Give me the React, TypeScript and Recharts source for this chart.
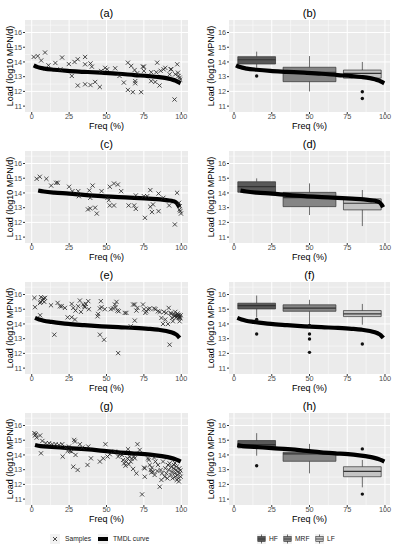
import React from "react";
import {
  CartesianGrid,
  ComposedChart,
  Line,
  ReferenceArea,
  ReferenceLine,
  Scatter,
  XAxis,
  YAxis,
} from "recharts";

type Pt = [number, number];

const freqTicks = [0, 25, 50, 75, 100];
const freqMinor = [12.5, 37.5, 62.5, 87.5];
const loadTicks = [11, 12, 13, 14, 15, 16];
const loadMinor = [11.5, 12.5, 13.5, 14.5, 15.5, 16.5];

// flow classes: name, frequency range of the box, centre
const flowClasses = ["HF", "MRF", "LF"];
const classRange: Pt[] = [
  [2.5, 27.5],
  [32.5, 67.5],
  [72.5, 97.5],
];
const classMid = [15, 50, 85];
const classFill = ["#595959", "#858585", "#C4C4C4"];

// TMDL curves (freq %, log10 load)
const tmdlAB: Pt[] = [
  [1.3, 13.77], [4, 13.65], [8.5, 13.55], [15, 13.47], [24, 13.39], [35, 13.33],
  [46.4, 13.27], [58, 13.2], [68.8, 13.11], [78, 13.04], [84.4, 12.98], [90, 12.9],
  [93.3, 12.82], [96, 12.74], [97.8, 12.64], [99.5, 12.55],
];
const tmdlCD: Pt[] = [
  [4.3, 14.17], [8, 14.1], [15, 14.02], [25, 13.96], [35, 13.87], [46.7, 13.78],
  [58, 13.72], [68.5, 13.67], [78, 13.61], [85.9, 13.56], [91, 13.5], [94.6, 13.44],
  [96.5, 13.35], [97.8, 13.2], [98.8, 13.03],
];
const tmdlEF: Pt[] = [
  [2.2, 14.41], [5, 14.3], [8, 14.22], [13.3, 14.14], [24.4, 14.0], [35, 13.92],
  [46.7, 13.84], [58, 13.78], [68.9, 13.73], [78, 13.67], [84.4, 13.61], [90, 13.52],
  [93.3, 13.43], [96, 13.32], [97.3, 13.23], [98.9, 13.05],
];
const tmdlGH: Pt[] = [
  [2.2, 14.68], [6, 14.6], [13.3, 14.55], [25, 14.46], [35.6, 14.39], [46, 14.3],
  [57.8, 14.18], [67, 14.11], [75.6, 14.05], [83, 13.97], [88.9, 13.89], [93, 13.8],
  [95.6, 13.73], [98, 13.63], [99.6, 13.55],
];

// samples
const samplesA: Pt[] = [
  [1.3, 14.34], [4, 14.4], [6.3, 14.1], [8.9, 14.64], [11.2, 13.77], [15.8, 13.93],
  [19.2, 13.5], [20.3, 14.3], [24.8, 13.86], [26.8, 13.05], [28.6, 14.0], [30.8, 14.18],
  [30.8, 12.4], [35.7, 14.34], [35.7, 13.84], [35.7, 12.48], [39.3, 13.9], [40.2, 13.68],
  [39.3, 12.43], [42.4, 12.64], [45.5, 12.3], [46.4, 13.39], [49.1, 13.6], [50.4, 13.5],
  [55.8, 13.57], [58.7, 13.05], [61.6, 12.6], [64.3, 13.95], [64.3, 12.1], [66.5, 13.73],
  [67.6, 11.95], [68.8, 13.45], [69.2, 12.7], [69.2, 12.55], [70.5, 13.23], [73.2, 11.95],
  [74.3, 13.68], [75, 13.68], [75, 13.39], [79.9, 12.7], [79.9, 13.3], [82.6, 12.64],
  [83.9, 13.95], [83.3, 13.3], [85.5, 12.4], [86.2, 13.4], [88.2, 13.5], [89.3, 13.6],
  [92.2, 13.16], [92.9, 13.5], [93.3, 13.5], [95.5, 11.45], [96, 13.16], [97.3, 13.84],
  [97.8, 13.27], [98.2, 13.05], [98.9, 12.93], [99.3, 12.8],
];
const samplesC: Pt[] = [
  [3.3, 14.96], [5.4, 15.1], [9.8, 14.96], [13, 14.5], [16.3, 14.69], [17.4, 14.69],
  [25, 14.42], [27.2, 14.12], [31.1, 14.12], [31.5, 13.78], [37.6, 12.88], [38.5, 14.17],
  [39.1, 13.67], [39.1, 12.95], [40.7, 14.5], [42.4, 13.0], [43.5, 12.6], [46.7, 14.12],
  [50.7, 13.67], [51.5, 13.51], [52.2, 14.42], [52.2, 13.15], [55, 14.64], [55, 13.15],
  [57.6, 14.57], [59.8, 14.12], [64.8, 13.15], [68.5, 13.15], [69.6, 12.92], [69.6, 13.83],
  [75, 13.78], [75.7, 12.31], [77.2, 13.78], [79.3, 14.19], [79.3, 13.06], [80.4, 12.7],
  [81.1, 13.22], [84.8, 13.96], [84.8, 12.76], [88, 13.67], [91.9, 13.15], [95.7, 11.86],
  [97.2, 14.01], [98.5, 13.33], [98.9, 13.1], [98.9, 12.88], [99.3, 12.76], [99.8, 12.6],
];
const samplesE: Pt[] = [
  [1.8, 15.77], [2.2, 15.14], [5.6, 14.59], [5.6, 15.43], [6.2, 15.82], [7.1, 15.59],
  [7.8, 15.73], [8.4, 15.5], [8.9, 15.77], [6, 15.5], [12.9, 15.27], [15.1, 13.27],
  [17.3, 15.43], [18.9, 15.2], [20, 15.2], [22.2, 15.09], [24, 14.45], [26.7, 14.45],
  [26.7, 15.36], [27.8, 15.09], [28.9, 14.3], [29.3, 14.91], [31.1, 15.2], [32.2, 15.59],
  [32.9, 14.82], [34.4, 15.32], [35.1, 15.2], [35.6, 15.14], [36.2, 15.36], [37.8, 15.55],
  [38.2, 15.0], [44, 14.52], [44.4, 14.68], [45.6, 15.05], [45.6, 13.27], [46.2, 15.55],
  [46.7, 15.14], [48.4, 12.93], [48.9, 15.0], [52.9, 15.0], [54.4, 15.05], [55.6, 15.32],
  [56, 15.14], [56.7, 15.5], [57.3, 14.91], [57.8, 12.02], [58.2, 14.86], [62.2, 14.75],
  [63.3, 14.75], [66.2, 13.84], [67.8, 15.32], [68.9, 15.32], [68.9, 14.23], [70, 14.91],
  [70.7, 15.09], [74.4, 15.32], [75.1, 15.0], [76, 14.75], [76.7, 14.86], [77.8, 15.0],
  [78.9, 15.05], [81.8, 15.05], [82.7, 15.0], [84.4, 14.86], [85.6, 14.82], [86.7, 14.41],
  [87.8, 14.0], [88.4, 14.82], [89.3, 14.3], [90, 14.75], [91.1, 14.0], [91.6, 15.09],
  [92.2, 12.59], [92.9, 14.75], [93.3, 14.68], [93.8, 14.41], [94.4, 14.18], [95.1, 14.64],
  [95.6, 14.52], [96, 14.82], [96.7, 14.45], [97.3, 14.52], [97.8, 14.59], [98.2, 14.41],
  [98.7, 14.52], [98.9, 14.18], [99.1, 14.45], [99.6, 14.59], [97.5, 14.7], [98.4, 14.62],
  [99.3, 14.38], [96.3, 14.6],
];
const samplesG: Pt[] = [
  [1.8, 15.48], [2.2, 15.32], [2.7, 15.41], [3.3, 15.18], [5.6, 15.32], [6.2, 14.11],
  [7.1, 14.95], [9.3, 14.8], [11.6, 14.8], [13.8, 14.73], [16, 14.73], [18.2, 14.68],
  [20.4, 14.73], [20.7, 13.89], [22.7, 14.5], [24, 14.27], [24.9, 14.57], [25.6, 14.27],
  [26.7, 14.23], [27.8, 13.2], [28.4, 15.02], [28.9, 14.91], [29.3, 14.0], [30.7, 12.98],
  [32.2, 14.73], [33.8, 14.5], [37.3, 13.32], [37.8, 14.57], [39.6, 13.77], [45.6, 13.55],
  [47.8, 13.77], [49.3, 14.73], [50.7, 13.89], [52.2, 14.05], [55.6, 14.23], [57.8, 13.89],
  [58.9, 14.05], [60.4, 14.0], [61.1, 13.66], [61.8, 13.43], [62.7, 13.27], [63.3, 13.55],
  [64, 13.77], [64.4, 14.39], [64.9, 13.36], [65.6, 13.89], [66.2, 13.55], [66.7, 13.73],
  [67.8, 13.05], [68.4, 13.89], [68.9, 13.77], [70, 12.75], [70.7, 14.73], [72.2, 14.34],
  [73.8, 11.32], [75.1, 13.14], [75.6, 13.09], [75.6, 12.52], [77.8, 13.77], [78.2, 13.66],
  [78.9, 13.32], [79.6, 12.98], [80, 12.82], [80.4, 13.14], [81.1, 12.86], [81.8, 13.82],
  [82.2, 12.64], [82.7, 13.55], [84, 12.91], [84.4, 13.32], [85.6, 11.84], [86.2, 12.98],
  [86.7, 12.3], [87.1, 12.75], [87.8, 13.55], [88.9, 12.52], [89.3, 13.09], [90, 12.75],
  [90.7, 12.41], [91.1, 13.32], [91.6, 12.98], [92.2, 13.43], [92.9, 12.64], [93.3, 13.2],
  [93.8, 12.86], [94.2, 12.41], [94.7, 13.09], [95.1, 13.32], [95.6, 12.75], [96, 12.52],
  [96.4, 12.98], [96.9, 13.2], [97.3, 12.64], [97.8, 12.86], [98.2, 12.41], [98.7, 13.09],
  [99.1, 12.75], [99.6, 12.52], [95.8, 13.45], [97, 12.3], [98.4, 12.2], [99.4, 12.95],
];

// box stats per flow class: [min, q1, median, q3, max]
const boxB = [
  [13.6, 13.86, 14.15, 14.36, 14.7],
  [12.0, 12.66, 13.3, 13.64, 14.4],
  [12.9, 12.9, 13.23, 13.45, 14.0],
];
const outliersB: Pt[] = [[15, 13.05], [85, 11.98], [85, 11.52]];
const boxD = [
  [14.0, 14.05, 14.43, 14.76, 14.99],
  [12.5, 13.07, 13.68, 14.04, 14.65],
  [11.75, 12.85, 13.3, 13.6, 14.2],
];
const outliersD: Pt[] = [];
const boxF = [
  [14.45, 15.02, 15.25, 15.41, 15.93],
  [14.0, 14.86, 15.07, 15.3, 15.64],
  [13.95, 14.5, 14.68, 14.91, 15.36],
];
const outliersF: Pt[] = [
  [15, 14.31], [15, 13.32], [50, 13.89], [50, 13.32], [50, 12.98], [50, 12.07], [85, 12.64],
];
const boxH = [
  [13.95, 14.48, 14.7, 14.98, 15.48],
  [12.75, 13.57, 14.07, 14.18, 14.75],
  [11.8, 12.52, 12.89, 13.2, 13.66],
];
const outliersH: Pt[] = [[15, 13.27], [85, 14.41], [85, 11.34]];

const toXY = (pts: Pt[]) => pts.map(([x, y]) => ({ x, y }));

function Cross(props: any) {
  const { cx, cy } = props;
  if (cx == null || cy == null) return null;
  const r = 2.1;
  return (
    <path
      d={`M${cx - r},${cy - r}L${cx + r},${cy + r}M${cx - r},${cy + r}L${cx + r},${cy - r}`}
      stroke="#222"
      strokeWidth={0.8}
      fill="none"
    />
  );
}

function OutDot(props: any) {
  const { cx, cy } = props;
  if (cx == null || cy == null) return null;
  return <circle cx={cx} cy={cy} r={1.7} fill="#111" />;
}

function Panel({ title, left, top, side, tmdl, samples, boxes, outliers }: any) {
  const isLeft = side === "left";
  const width = isLeft ? 197 : 200;
  const axisW = isLeft ? 25 : 32;
  const marginRight = isLeft ? 9 : 7;
  const plotW = width - axisW - marginRight;
  const domainX = isLeft ? [-4.5, 104.5] : [-3.33, 103.33];
  const tickStyle = { fontSize: 7.3, fill: "#4D4D4D" };

  return (
    <div style={{ position: "absolute", left, top, width, height: 131 }}>
      <div
        style={{
          position: "absolute",
          left: axisW,
          width: plotW,
          top: 6,
          textAlign: "center",
          fontSize: 11,
          lineHeight: "14px",
        }}
      >
        {title}
      </div>
      <ComposedChart
        width={width}
        height={131}
        margin={{ top: 20, right: marginRight, bottom: 0, left: 0 }}
      >
        <CartesianGrid
          fill="#EBEBEB"
          fillOpacity={1}
          stroke="#FFFFFF"
          strokeWidth={1}
          horizontalValues={loadTicks}
          verticalValues={freqTicks}
        />
        <CartesianGrid
          stroke="#FFFFFF"
          strokeWidth={0.5}
          horizontalValues={loadMinor}
          verticalValues={freqMinor}
        />
        <XAxis
          type="number"
          dataKey="x"
          domain={domainX}
          allowDataOverflow
          ticks={freqTicks}
          height={19}
          axisLine={false}
          tickLine={{ stroke: "#333333" }}
          tickSize={2}
          tickMargin={0}
          tick={tickStyle}
          label={{
            value: "Freq (%)",
            position: "insideBottom",
            offset: 2,
            style: { fontSize: 9, fill: "#000" },
          }}
        />
        <YAxis
          type="number"
          domain={[10.6, 16.85]}
          allowDataOverflow
          ticks={loadTicks}
          width={axisW}
          axisLine={false}
          tickLine={{ stroke: "#333333" }}
          tickSize={2}
          tickMargin={1}
          tick={tickStyle}
          label={{
            value: "Load (log10 MPN/d)",
            angle: -90,
            position: "insideLeft",
            offset: isLeft ? 10 : 14,
            style: { textAnchor: "middle", fontSize: 9, fill: "#000" },
          }}
        />

        {boxes &&
          boxes.map((b: number[], i: number) => {
            const [x1, x2] = classRange[i];
            const xm = classMid[i];
            const [mn, q1, md, q3, mx] = b;
            return [
              <ReferenceLine
                key={`wl${i}`}
                segment={[{ x: xm, y: mn }, { x: xm, y: q1 }]}
                stroke="#333"
                strokeWidth={0.7}
              />,
              <ReferenceLine
                key={`wh${i}`}
                segment={[{ x: xm, y: q3 }, { x: xm, y: mx }]}
                stroke="#333"
                strokeWidth={0.7}
              />,
              <ReferenceArea
                key={`bx${i}`}
                x1={x1}
                x2={x2}
                y1={q1}
                y2={q3}
                fill={classFill[i]}
                fillOpacity={1}
                stroke="#333"
                strokeWidth={0.7}
              />,
              <ReferenceLine
                key={`md${i}`}
                segment={[{ x: x1, y: md }, { x: x2, y: md }]}
                stroke="#333"
                strokeWidth={1.2}
              />,
            ];
          })}

        {samples && (
          <Scatter
            data={toXY(samples)}
            dataKey="y"
            shape={<Cross />}
            isAnimationActive={false}
          />
        )}
        <Line
          data={toXY(tmdl)}
          dataKey="y"
          type="monotone"
          stroke="#000"
          strokeWidth={4.2}
          dot={false}
          activeDot={false}
          isAnimationActive={false}
        />
        {outliers && outliers.length > 0 && (
          <Scatter
            data={toXY(outliers)}
            dataKey="y"
            shape={<OutDot />}
            isAnimationActive={false}
          />
        )}
      </ComposedChart>
    </div>
  );
}

function BoxKey({ x, fill }: { x: number; fill: string }) {
  return (
    <g>
      <rect x={x} y={6} width={9} height={10} fill="#F2F2F2" />
      <line x1={x + 4.5} x2={x + 4.5} y1={6.5} y2={15.5} stroke="#333" strokeWidth={0.7} />
      <rect x={x + 0.8} y={8.5} width={7.4} height={5} fill={fill} stroke="#333" strokeWidth={0.6} />
      <line x1={x + 0.8} x2={x + 8.2} y1={11} y2={11} stroke="#333" strokeWidth={0.8} />
    </g>
  );
}

export default function App() {
  const legendText = { fontSize: 6.7, fill: "#222" };
  const keyX = [257, 283, 315];
  return (
    <div
      style={{
        position: "absolute",
        left: 0,
        top: 0,
        width: 397,
        height: 550,
        background: "#fff",
        fontFamily: "'Liberation Sans', Arial, Helvetica, sans-serif",
      }}
    >
      <Panel title="(a)" left={0} top={0} side="left" tmdl={tmdlAB} samples={samplesA} />
      <Panel title="(b)" left={197} top={0} side="right" tmdl={tmdlAB} boxes={boxB} outliers={outliersB} />
      <Panel title="(c)" left={0} top={131} side="left" tmdl={tmdlCD} samples={samplesC} />
      <Panel title="(d)" left={197} top={131} side="right" tmdl={tmdlCD} boxes={boxD} outliers={outliersD} />
      <Panel title="(e)" left={0} top={262} side="left" tmdl={tmdlEF} samples={samplesE} />
      <Panel title="(f)" left={197} top={262} side="right" tmdl={tmdlEF} boxes={boxF} outliers={outliersF} />
      <Panel title="(g)" left={0} top={393} side="left" tmdl={tmdlGH} samples={samplesG} />
      <Panel title="(h)" left={197} top={393} side="right" tmdl={tmdlGH} boxes={boxH} outliers={outliersH} />

      <svg width={397} height={22} style={{ position: "absolute", left: 0, top: 528 }}>
        <rect x={50} y={6} width={10} height={10} fill="#F2F2F2" />
        <path d="M53,9L57,13M53,13L57,9" stroke="#222" strokeWidth={0.8} />
        <text x={65} y={13.3} {...legendText}>Samples</text>
        <rect x={98} y={6} width={10} height={10} fill="#F2F2F2" />
        <line x1={98} x2={108} y1={11} y2={11} stroke="#000" strokeWidth={4} />
        <text x={113} y={13.3} {...legendText}>TMDL curve</text>

        {flowClasses.map((name, i) => (
          <g key={name}>
            <BoxKey x={keyX[i]} fill={classFill[i]} />
            <text x={keyX[i] + 12} y={13.3} {...legendText}>{name}</text>
          </g>
        ))}
      </svg>
    </div>
  );
}
